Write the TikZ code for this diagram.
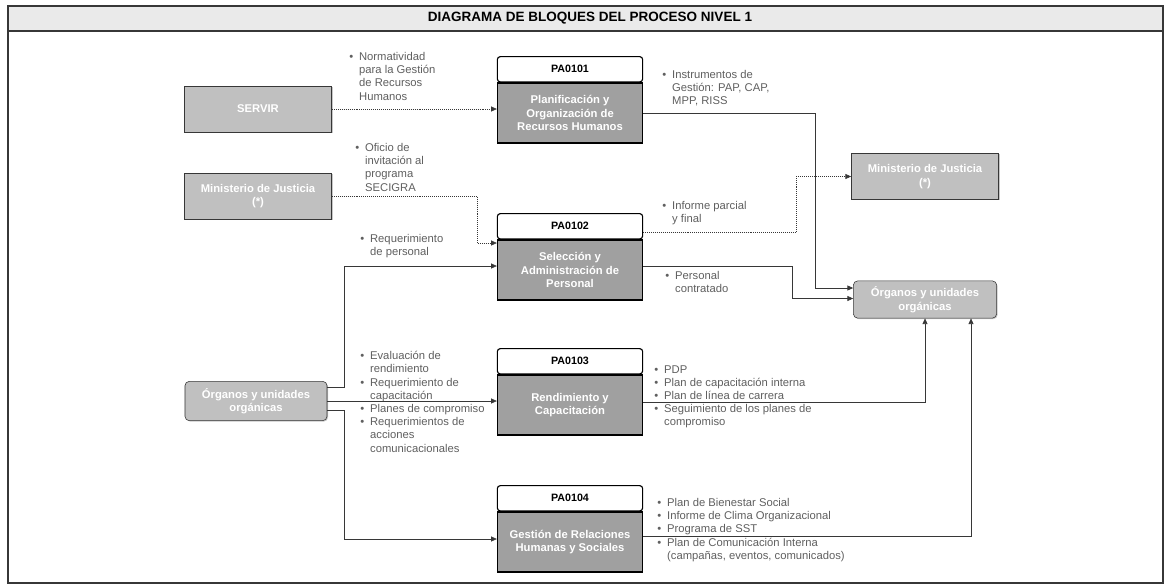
\documentclass[tikz,border=0pt]{standalone}
\usepackage{fontspec}
\setmainfont{Liberation Sans}
\usetikzlibrary{arrows.meta, positioning, calc, shadows}
\definecolor{myfill}{RGB}{192,192,192}
\definecolor{mybody}{RGB}{160,160,160}
\definecolor{mytxt}{RGB}{95,95,95}
\definecolor{myline}{RGB}{55,55,55}
\definecolor{mybar}{RGB}{234,234,234}
\newcommand{\bul}{\makebox[7pt][l]{\textbullet}}
\newcommand{\ind}{\hspace*{7pt}}

\begin{document}
\begin{tikzpicture}[x=0.025cm, y=-0.025cm,
	every node/.style={font=\fontsize{8}{9.4}\selectfont},
	ext/.style={draw=myline, fill=myfill, text=white, align=center,
		font=\fontsize{8}{9.6}\selectfont\bfseries,
		minimum width=3.68cm, minimum height=1.15cm,
		drop shadow={shadow xshift=0.7pt, shadow yshift=-0.7pt, opacity=0.45}},
	pahead/.style={draw=black, thick, fill=white, rounded corners=2pt,
		minimum width=3.63cm, minimum height=0.63cm,
		font=\fontsize{7.6}{9}\selectfont\bfseries},
	pabody/.style={draw=black, thick, fill=mybody, text=white, align=center,
		minimum width=3.63cm, minimum height=1.5cm,
		font=\fontsize{8}{9.6}\selectfont\bfseries},
	note/.style={anchor=north west, inner sep=0pt, align=left, text=mytxt},
	flow/.style={draw=myline, -{Triangle[length=4pt, width=3.5pt]}},
	dflow/.style={flow, densely dotted}]
	\useasboundingbox (0,0) rectangle (1168,587);
	% frame and title bar
	\draw[thick, myline] (8,6) rectangle (1163,583);
	\draw[thick, myline, fill=mybar] (8,6) rectangle (1163,31);
	\node[font=\fontsize{9.6}{12}\selectfont\bfseries] (title) at (590,18.5) {DIAGRAMA DE BLOQUES DEL PROCESO NIVEL 1};
	% external entities
	\node[ext] (servir) at (258,109) {SERVIR};
	\node[ext] (mjin) at (258,196) {Ministerio de Justicia\\(*)};
	\node[ext, rounded corners=3pt, minimum width=3.55cm, minimum height=0.98cm] (orgin) at (256,401) {Órganos y unidades\\orgánicas};
	\node[ext] (mjout) at (925,176.5) {Ministerio de Justicia\\(*)};
	\node[ext, rounded corners=3pt, minimum width=3.58cm, minimum height=0.93cm] (orgout) at (925,299.5) {Órganos y unidades\\orgánicas};
	% processes
	\node[pabody] (p1) at (570,113) {Planificación y\\Organización de\\Recursos Humanos};
	\node[pahead, above=0pt of p1] (h1) {PA0101};
	\node[pabody] (p2) at (570,270) {Selección y\\Administración de\\Personal};
	\node[pahead, above=0pt of p2] (h2) {PA0102};
	\node[pabody] (p3) at (570,405) {Rendimiento y\\Capacitación};
	\node[pahead, above=0pt of p3] (h3) {PA0103};
	\node[pabody] (p4) at (570,542) {Gestión de Relaciones\\Humanas y Sociales};
	\node[pahead, above=0pt of p4] (h4) {PA0104};
	% inputs
	\node[note] (lnorm) at (349,52) {\bul Normatividad\\\ind para la Gestión\\\ind de Recursos\\\ind Humanos};
	\node[note] (loficio) at (355,143) {\bul Oficio de\\\ind invitación al\\\ind programa\\\ind SECIGRA};
	\node[note] (lreqper) at (360,234) {\bul Requerimiento\\\ind de personal};
	\node[note] (lorgin) at (360,351) {\bul Evaluación de\\\ind rendimiento\\\bul Requerimiento de\\\ind capacitación\\\bul Planes de compromiso\\\bul Requerimientos de\\\ind acciones\\\ind comunicacionales};
	% outputs
	\node[note] (linstr) at (662,70) {\bul Instrumentos de\\\ind Gestión: PAP, CAP,\\\ind MPP, RISS};
	\node[note] (linforme) at (662,201) {\bul Informe parcial\\\ind y final};
	\node[note] (lpersonal) at (665,271) {\bul Personal\\\ind contratado};
	\node[note] (lpdp) at (654,365) {\bul PDP\\\bul Plan de capacitación interna\\\bul Plan de línea de carrera\\\bul Seguimiento de los planes de\\\ind compromiso};
	\node[note] (lbien) at (657,498) {\bul Plan de Bienestar Social\\\bul Informe de Clima Organizacional\\\bul Programa de SST\\\bul Plan de Comunicación Interna\\\ind (campañas, eventos, comunicados)};
	% connectors
	\draw[dflow] (servir.east) -- (servir.east -| p1.west);
	\draw[dflow] (mjin.east) -| ($(p2.west)+(-20,-27)$) -- ($(p2.west)+(0,-27)$);
	\draw[flow] ($(orgin.east)+(0,-14)$) -| ($(p2.west)+(-153,-4)$) -- ($(p2.west)+(0,-4)$);
	\draw[flow] (orgin.east) -- (orgin.east -| p3.west);
	\draw[flow] ($(orgin.east)+(0,9)$) -| ($(p4.west)+(-153,-3)$) -- ($(p4.west)+(0,-3)$);
	\draw[flow] (p1.east) -| ($(orgout.west)+(-38,-11.5)$) -- ($(orgout.west)+(0,-11.5)$);
	\draw[dflow] ($(p2.east)+(0,-38)$) -| ($(mjout.west)+(-55,0)$) -- (mjout.west);
	\draw[flow] ($(p2.east)+(0,-4)$) -| ($(orgout.west)+(-61,-1)$) -- ($(orgout.west)+(0,-1)$);
	\draw[flow] ($(p3.east)+(0,-3)$) -| (orgout.south);
	\draw[flow] ($(p4.east)+(0,-6)$) -| ($(orgout.south)+(46,0)$);
\end{tikzpicture}
\end{document}
